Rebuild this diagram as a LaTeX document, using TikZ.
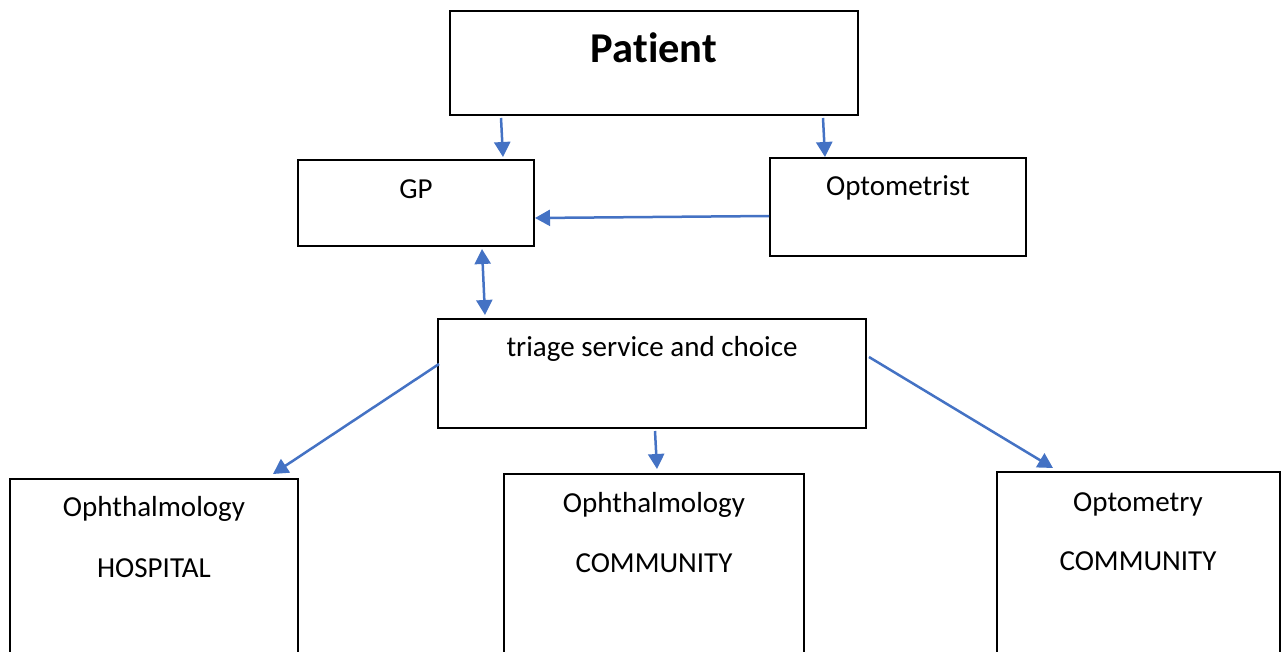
\documentclass[tikz,border=0pt]{standalone}
\usepackage{fontspec}
\setmainfont{Carlito}[Ligatures=NoCommon]
\usetikzlibrary{arrows.meta,calc}
\definecolor{arrblue}{HTML}{4472C4}
\tikzset{
  box/.style={draw=black, line width=2pt, fill=white, inner sep=0pt, rectangle},
  txt/.style={font=\fontsize{29}{35}\selectfont, anchor=base, inner sep=0pt},
  conn/.style={draw=arrblue, line width=2.5pt, -{Triangle[length=15pt,width=16pt]}},
  dconn/.style={draw=arrblue, line width=2.5pt, {Triangle[length=15pt,width=16pt]}-{Triangle[length=15pt,width=16pt]}}
}
\begin{document}
\begin{tikzpicture}[x=1pt,y=-1pt]
\clip (0,0) rectangle (1282,651);
\fill[white] (0,0) rectangle (1282,651);
% boxes
\node[box, minimum width=408pt, minimum height=104pt] (patient) at (654,63) {};
\node[box, minimum width=236pt, minimum height=86pt] (gp) at (416,203) {};
\node[box, minimum width=256pt, minimum height=98pt] (opt) at (898,207) {};
\node[box, minimum width=428pt, minimum height=109pt] (triage) at (652,373.5) {};
\node[box, minimum width=288pt, minimum height=191pt] (hosp) at (154,574.5) {};
\node[box, minimum width=300pt, minimum height=196pt] (comm) at (654,572) {};
\node[box, minimum width=283pt, minimum height=198pt] (optc) at (1138.5,571) {};
% texts
\node[txt, font=\fontsize{42.5}{50}\selectfont\bfseries] (tpat) at (654,62) {Patient};
\node[txt] (tgp) at (416,198) {GP};
\node[txt] (topt) at (898,195) {Optometrist};
\node[txt] (ttri) at (652,356) {triage service and choice};
\node[txt] (th1) at (154,516) {Ophthalmology};
\node[txt] (th2) at (154,577) {HOSPITAL};
\node[txt] (tc1) at (654,512) {Ophthalmology};
\node[txt] (tc2) at (654,572) {COMMUNITY};
\node[txt] (to1) at (1138,511) {Optometry};
\node[txt] (to2) at (1138,570) {COMMUNITY};
% connector ends
\coordinate (a1s) at ($(patient.south west)+(52,2)$);
\coordinate (a1e) at ($(gp.north west)+(206,-2)$);
\coordinate (a2s) at ($(patient.south west)+(374,2)$);
\coordinate (a2e) at ($(opt.north west)+(56,0)$);
\coordinate (a3s) at ($(opt.west)+(0,9)$);
\coordinate (a3e) at ($(gp.east)+(0,15)$);
\coordinate (a4s) at ($(gp.south west)+(185,2)$);
\coordinate (a4e) at ($(triage.north west)+(48,-3)$);
\coordinate (a5s) at ($(triage.west)+(2,-9.5)$);
\coordinate (a5e) at ($(hosp.north west)+(264,-4)$);
\coordinate (a6s) at ($(triage.south)+(3,2)$);
\coordinate (a6e) at ($(comm.north)+(3,-4)$);
\coordinate (a7s) at ($(triage.east)+(2,-16.5)$);
\coordinate (a7e) at ($(optc.north west)+(57,-3)$);
% connectors
\draw[conn] (a1s) -- (a1e);
\draw[conn] (a2s) -- (a2e);
\draw[conn] (a3s) -- (a3e);
\draw[dconn] (a4s) -- (a4e);
\draw[conn] (a5s) -- (a5e);
\draw[conn] (a6s) -- (a6e);
\draw[conn] (a7s) -- (a7e);
\end{tikzpicture}
\end{document}
